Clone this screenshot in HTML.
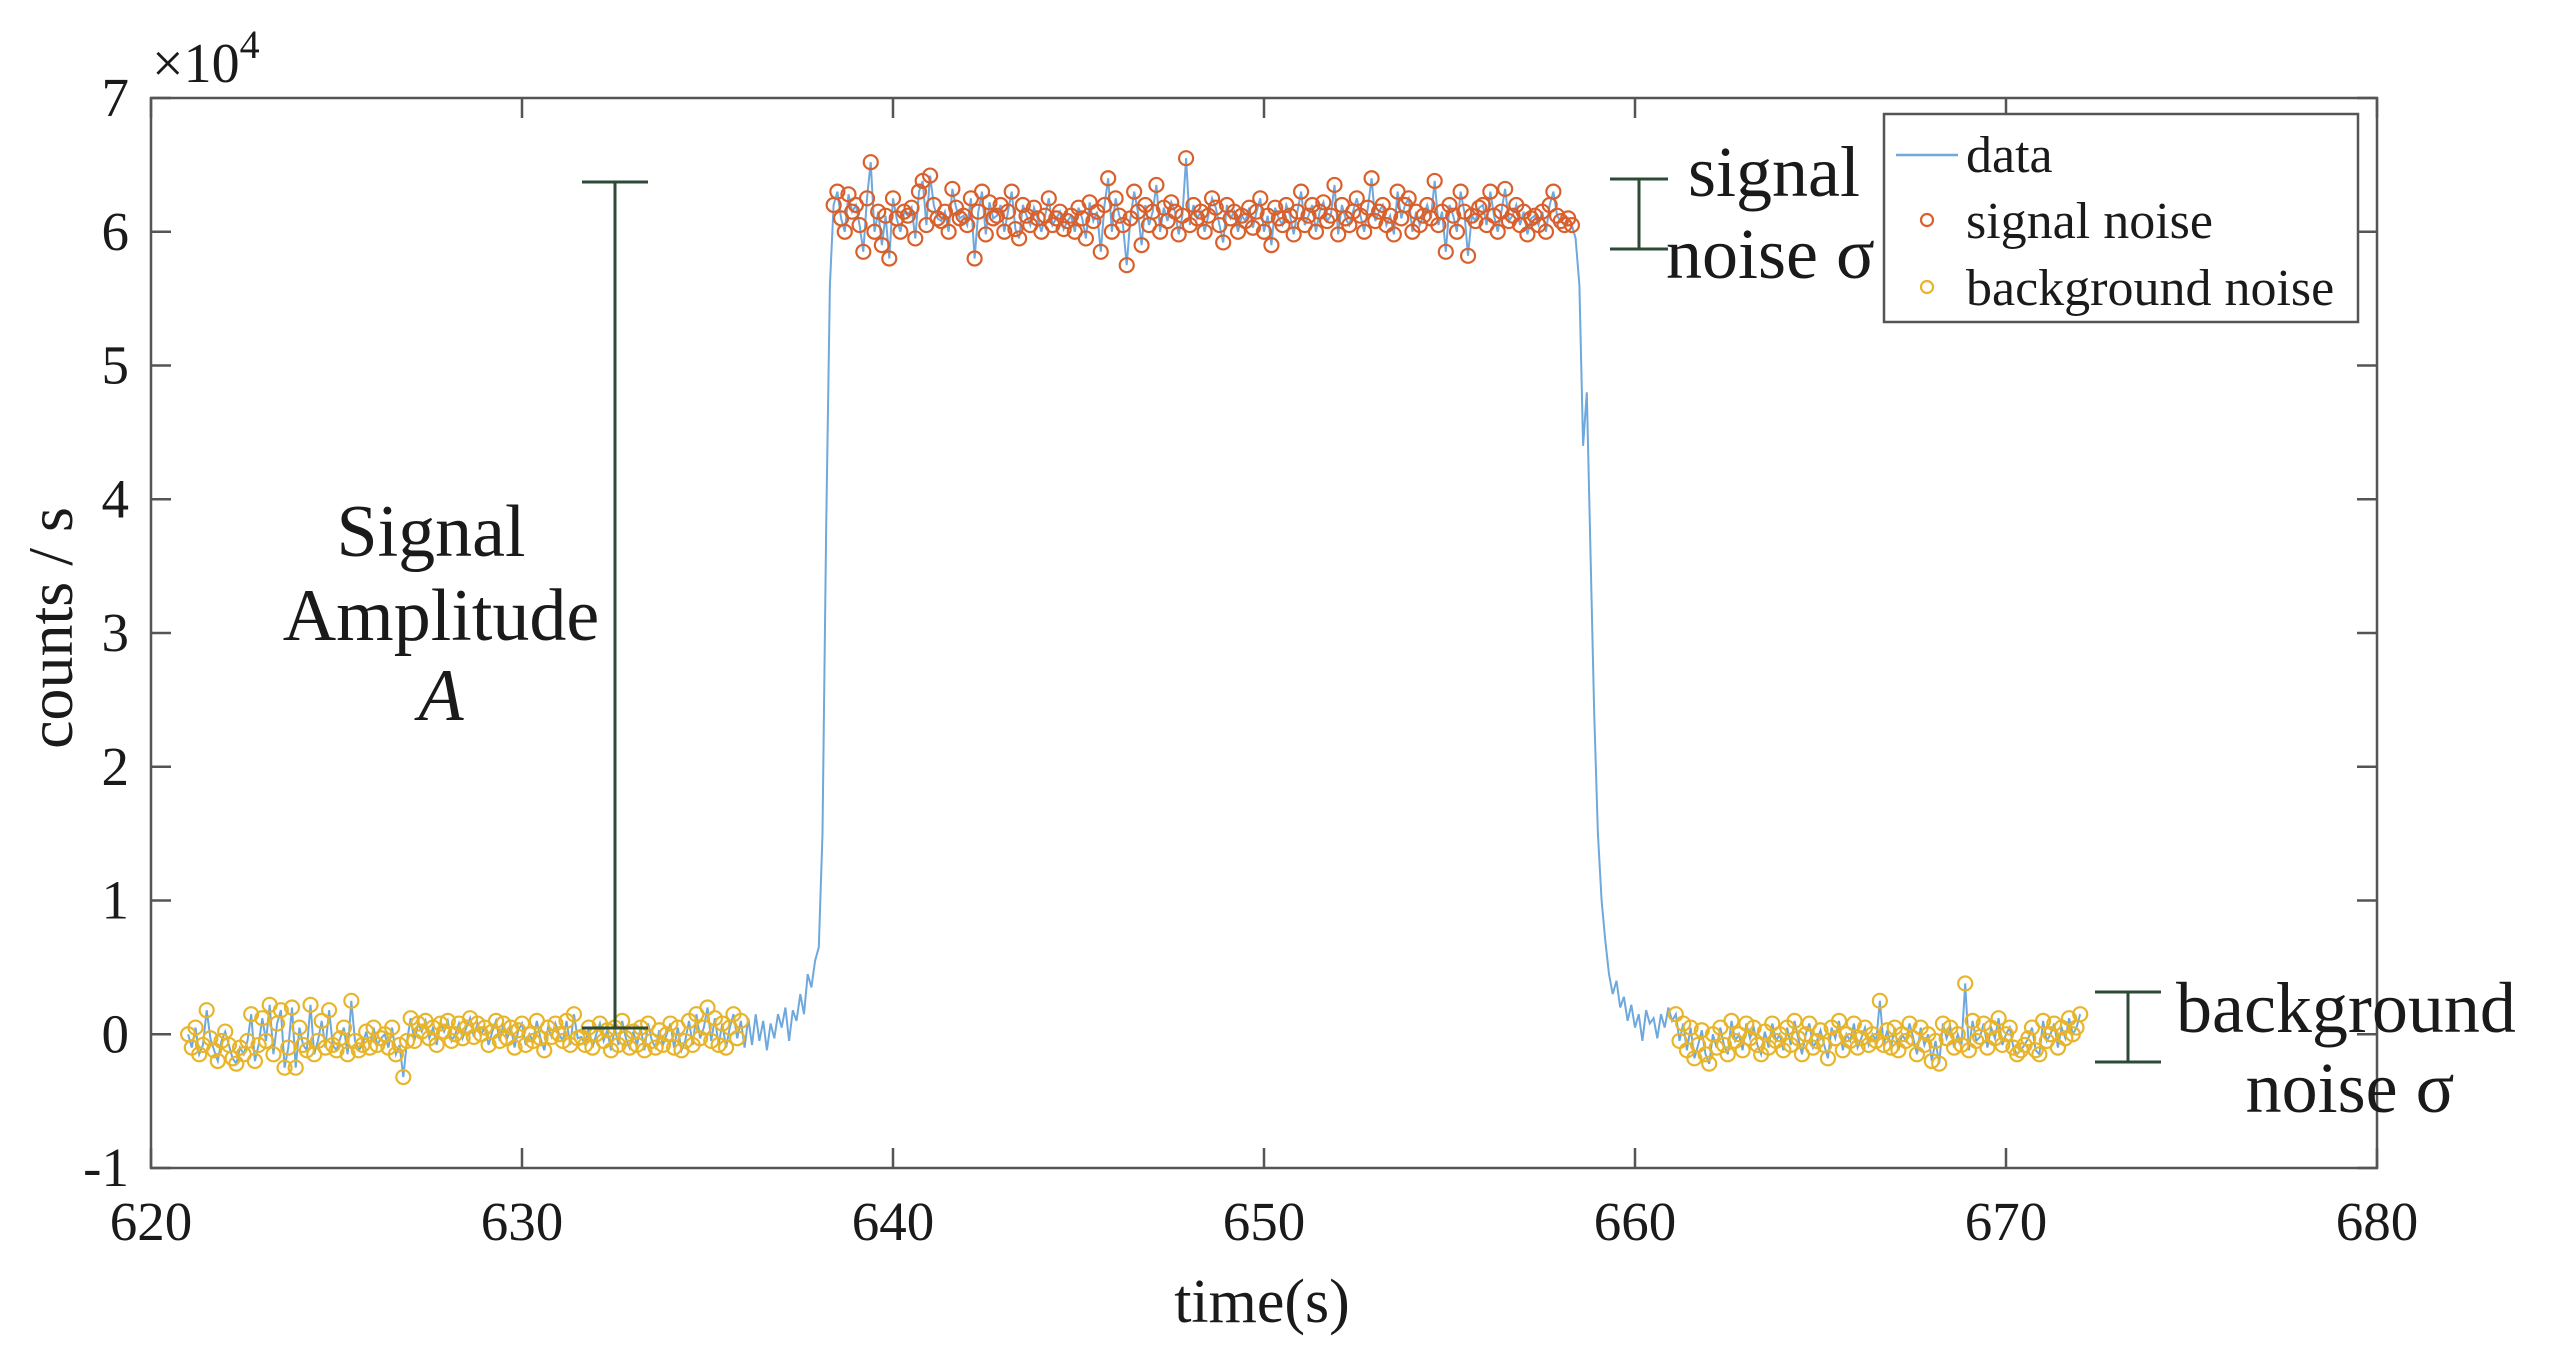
<!DOCTYPE html>
<html><head><meta charset="utf-8"><style>
html,body{margin:0;padding:0;background:#fff;}
svg{display:block;}
text{font-family:"Liberation Serif",serif;fill:#1a1a1a;}
</style></head><body>
<svg id="chart" width="2550" height="1356" viewBox="0 0 2550 1356" xmlns="http://www.w3.org/2000/svg">
<g id="grid"></g>
<g id="series"></g>
<g id="annot"></g>
</svg>
<script>
// data: counts/s in hundreds, sampled every 0.1 s
const bg1Start = 621.0;
const bg1 = [0,-10,5,-15,-8,18,-3,-12,-20,-5,2,-8,-18,-22,-10,-15,-5,15,-20,-8,
12,-5,22,-15,8,18,-25,-10,20,-25,5,-8,-12,22,-15,-5,10,-10,18,-8,
-12,-3,5,-15,25,-5,-12,-8,2,-10,5,-8,-3,0,-10,5,-15,-8,-32,-5,
12,-5,8,2,10,-3,5,-8,8,2,10,-5,0,8,-3,5,12,-2,8,0,
5,-8,2,10,-5,8,-3,5,-10,3,8,-8,0,-5,10,-3,-12,5,-2,8,
0,-5,10,-8,15,-3,-2,-8,5,-10,0,8,-5,3,-12,5,-8,10,-3,-10,
2,-8,5,-12,8,-5,-10,3,-8,0,8,-10,5,-12,-5,10,-8,15,-3,5,
20,-5,12,-8,8,-10,5,15,-3,10];
const riseStart = 636.0;
const rise = [-10,12,-8,15,-5,10,-12,8,-3,15,5,20,-5,18,10,30,15,45,35,55,65,150,380,560];
const sigStart = 638.4;
const sig = [620,630,610,600,628,615,620,605,585,625,
652,600,615,590,612,580,625,610,600,615,
612,618,595,630,638,605,642,620,610,608,
615,600,632,618,610,612,605,625,580,615,
630,598,622,610,612,620,600,615,630,602,
595,620,612,605,618,610,600,612,625,605,
610,615,602,608,612,600,618,610,595,622,
608,615,585,620,640,600,625,612,605,575,
610,630,615,590,620,605,615,635,600,618,
608,622,615,598,612,655,605,620,610,615,
600,612,625,618,605,592,620,610,615,600,
612,608,618,603,615,625,600,612,590,618,
610,605,620,612,598,615,630,605,612,620,
600,615,622,608,612,635,598,620,610,605,
615,625,612,600,618,640,608,615,620,605,
612,598,630,610,620,625,600,615,605,612,
620,610,638,605,615,585,620,612,600,630,
615,582,612,608,618,620,605,630,612,600,
615,632,608,612,620,605,615,598,610,612,
605,615,600,620,630,612,608,605,610,605];
const fallStart = 658.4;
const fall = [595,560,440,480,360,240,150,100,70,45,30,40,20,28,10,22,5,15,-5,18,8,12,-3,15,5,20,10];
const bg2Start = 661.1;
const bg2 = [15,-5,8,-12,5,-18,-8,3,-15,-22,
0,-10,5,-8,-15,10,-5,0,-12,8,
-3,5,-8,-15,2,-10,8,-5,0,-12,
5,-8,10,-3,-15,0,8,-10,-5,3,
-8,-18,5,-3,10,-12,0,-5,8,-10,
-3,5,-8,0,-5,25,-8,3,-10,5,
-12,0,-5,8,-3,-15,5,-8,0,-20,
-5,-22,8,-3,5,-10,0,-8,38,-12,
10,-5,-2,8,-10,5,-3,12,-8,0,
5,-10,-15,-12,-8,-3,5,-12,-15,10,
-5,0,8,-10,5,-3,12,0,5,15];
const xTicks = [620,630,640,650,660,670,680];
const yTicks = [-1,0,1,2,3,4,5,6,7];
const sampleStep = 0.1;

const NS = "http://www.w3.org/2000/svg";
const L = 151, R = 2377, T = 98, B = 1168;
const xMin = 620, xMax = 680, yMin = -1, yMax = 7;
const X = v => L + (v - xMin) / (xMax - xMin) * (R - L);
const Y = v => B - (v - yMin) / (yMax - yMin) * (B - T);
const H = h => Y(h / 100);

function mk(tag, attrs, parent, txt) {
  const e = document.createElementNS(NS, tag);
  for (const k in attrs) e.setAttribute(k, attrs[k]);
  if (txt !== undefined) e.textContent = txt;
  parent.appendChild(e);
  return e;
}
const grid = document.getElementById('grid');
const series = document.getElementById('series');
const annot = document.getElementById('annot');

const box = mk('rect', {x:L, y:T, width:R-L, height:B-T, fill:'none', stroke:'#555', 'stroke-width':2.5}, grid);



xTicks.forEach(t => {
  const x = X(t);
  mk('line', {x1:x, y1:B, x2:x, y2:B-20, stroke:'#555', 'stroke-width':2.5}, grid);
  mk('line', {x1:x, y1:T, x2:x, y2:T+20, stroke:'#555', 'stroke-width':2.5}, grid);
  const tx = mk('text', {x:x, y:B+72, 'text-anchor':'middle', 'font-size':55}, grid, String(t));
  
  
});
yTicks.forEach(t => {
  const y = Y(t);
  mk('line', {x1:L, y1:y, x2:L+20, y2:y, stroke:'#555', 'stroke-width':2.5}, grid);
  mk('line', {x1:R, y1:y, x2:R-20, y2:y, stroke:'#555', 'stroke-width':2.5}, grid);
  const ty = mk('text', {x:L-22, y:y+18, 'text-anchor':'end', 'font-size':55}, grid, String(t));
  
  
});
const exp = mk('text', {x:152, y:82, 'font-size':56}, grid);


exp.innerHTML = '×10<tspan dy="-24" font-size="40">4</tspan>';
const xl = mk('text', {x:1262, y:1322, 'text-anchor':'middle', 'font-size':62}, grid, 'time(s)');


const yl = mk('text', {x:0, y:0, 'text-anchor':'middle', 'font-size':64, transform:'translate(72,628) rotate(-90)'}, grid, 'counts / s');



const segs = [[bg1Start,bg1],[riseStart,rise],[sigStart,sig],[fallStart,fall],[bg2Start,bg2]];
let pts = [];
segs.forEach(([s, arr]) => arr.forEach((v, i) => pts.push(X(s + i*sampleStep).toFixed(1) + ',' + H(v).toFixed(1))));
const line = mk('polyline', {points:pts.join(' '), fill:'none', stroke:'#6fa8dc', 'stroke-width':2}, series);



function circles(start, arr, color, name) {
  const g = mk('g', {}, series);
  
  
  arr.forEach((v, i) => {
    const c = mk('circle', {cx:X(start + i*sampleStep), cy:H(v), r:7, fill:'none', stroke:color, 'stroke-width':2.2}, g);
    
    
  });
}
circles(bg1Start, bg1, '#E8B52A', 'background-noise-left');
circles(sigStart, sig, '#D9602C', 'signal-noise');
circles(bg2Start, bg2, '#E8B52A', 'background-noise-right');

const GC = '#2d4a36';
function ebar(x, y1, y2, w, name) {
  const g = mk('g', {stroke:GC, 'stroke-width':3}, annot);
  
  
  mk('line', {x1:x, y1:y1, x2:x, y2:y2}, g);
  mk('line', {x1:x-w, y1:y1, x2:x+w, y2:y1}, g);
  mk('line', {x1:x-w, y1:y2, x2:x+w, y2:y2}, g);
}
ebar(615, 182, 1028, 33, 'amplitude-bar');
ebar(1639, 179, 249, 29, 'signal-noise-bar');
ebar(2128, 992, 1062, 33, 'background-noise-bar');

function label(x, y, anchor, size, txt, name, italic) {
  const t = mk('text', {x:x, y:y, 'text-anchor':anchor, 'font-size':size}, annot, txt);
  if (italic) t.setAttribute('font-style', 'italic');
  
  
}
label(431, 556, 'middle', 74, 'Signal', 'amplitude-label-line1');
label(441, 640, 'middle', 74, 'Amplitude', 'amplitude-label-line2');
label(441, 720, 'middle', 74, 'A', 'amplitude-label-symbol', true);
label(1688, 196, 'start', 72, 'signal', 'signal-noise-label-line1');
label(1666, 278, 'start', 72, 'noise σ', 'signal-noise-label-line2');
label(2176, 1032, 'start', 72, 'background', 'background-noise-label-line1');
label(2350, 1112, 'middle', 72, 'noise σ', 'background-noise-label-line2');

const lg = mk('g', {}, annot);


mk('rect', {x:1884, y:114, width:474, height:208, fill:'#fff', stroke:'#555', 'stroke-width':2.5}, lg);
mk('line', {x1:1896, y1:155, x2:1958, y2:155, stroke:'#6fa8dc', 'stroke-width':2.5}, lg);
mk('circle', {cx:1927, cy:220, r:6, fill:'none', stroke:'#D9602C', 'stroke-width':2.2}, lg);
mk('circle', {cx:1927, cy:287, r:6, fill:'none', stroke:'#E8B52A', 'stroke-width':2.2}, lg);
[['data',172,'legend-entry-data'],['signal noise',238,'legend-entry-signal-noise'],['background noise',305,'legend-entry-background-noise']].forEach(([t,y,n]) => {
  const e = mk('text', {x:1966, y:y, 'font-size':52}, lg, t);
  
  
});
</script>
</body></html>
